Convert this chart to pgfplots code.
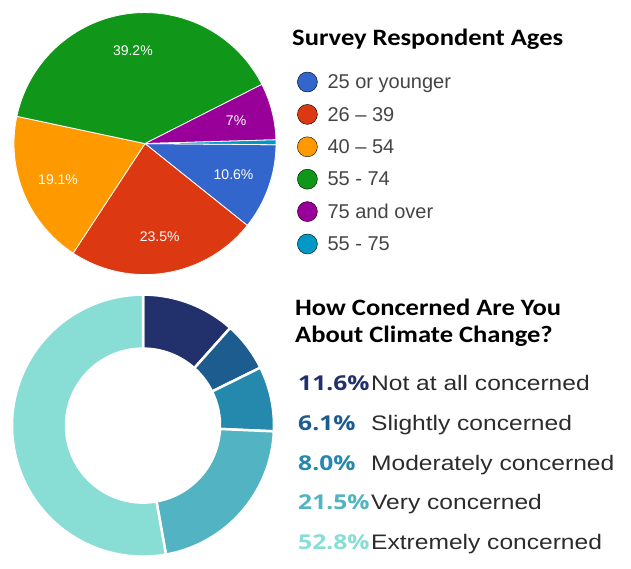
\documentclass[border=0pt]{standalone}
\usepackage{pgfplots}
\pgfplotsset{compat=1.18}
\usepackage{pgfplotstable}
\usepackage{fontspec}
\setmainfont{Liberation Sans}
\newfontfamily\titlefont[FakeStretch=1.13]{Carlito}
\newfontfamily\pctfont[FakeStretch=1.2]{Open Sans}
\newfontfamily\legfont[FakeStretch=1.17]{Liberation Sans}
\pgfkeys{/pgf/number format/assume math mode=true}

\definecolor{gBlue}{HTML}{3366CC}
\definecolor{gRed}{HTML}{DC3912}
\definecolor{gOrange}{HTML}{FF9900}
\definecolor{gGreen}{HTML}{109618}
\definecolor{gPurple}{HTML}{990099}
\definecolor{gCyan}{HTML}{0099C6}
\definecolor{dA}{HTML}{22306B}
\definecolor{dB}{HTML}{1C5C8E}
\definecolor{dC}{HTML}{2588AD}
\definecolor{dD}{HTML}{52B3C2}
\definecolor{dE}{HTML}{88DDD5}
\definecolor{legtext}{HTML}{444444}
\definecolor{bodytext}{HTML}{2B2B2B}

% Survey respondent ages (percent)
\pgfplotstableread{
pct color label
10.6 gBlue {25 or younger}
23.5 gRed {26 -- 39}
19.1 gOrange {40 -- 54}
39.2 gGreen {55 - 74}
7.0 gPurple {75 and over}
0.6 gCyan {55 - 75}
}\agedata

% How concerned are you about climate change (percent)
\pgfplotstableread{
pct color label
11.6 dA {Not at all concerned}
6.1 dB {Slightly concerned}
8.0 dC {Moderately concerned}
21.5 dD {Very concerned}
52.8 dE {Extremely concerned}
}\concerndata

\newcommand\prepsectors[3]{%
  \pgfplotstablegetrowsof{#1}%
  \pgfmathtruncatemacro\nrows{\pgfplotsretval-1}%
  \xdef\curang{#3}%
  \foreach \i in {0,...,\nrows}{%
    \pgfplotstablegetelem{\i}{pct}\of{#1}\let\v\pgfplotsretval
    \pgfplotstablegetelem{\i}{color}\of{#1}\let\c\pgfplotsretval
    \pgfplotstablegetelem{\i}{label}\of{#1}\let\l\pgfplotsretval
    \pgfmathsetmacro\e{\curang-3.6*\v}%
    \pgfmathsetmacro\m{(\curang+\e)/2}%
    \expandafter\xdef\csname #2s\i\endcsname{\curang}%
    \expandafter\xdef\csname #2e\i\endcsname{\e}%
    \expandafter\xdef\csname #2m\i\endcsname{\m}%
    \expandafter\xdef\csname #2c\i\endcsname{\c}%
    \expandafter\xdef\csname #2v\i\endcsname{\v}%
    \expandafter\global\expandafter\let\csname #2l\i\endcsname\l
    \xdef\curang{\e}%
  }%
}

\begin{document}
\begin{tikzpicture}
\prepsectors{\agedata}{age}{-0.5}
\prepsectors{\concerndata}{con}{90}
\begin{axis}[
  x=1pt, y=1pt, xmin=0, xmax=631, ymin=0, ymax=550,
  hide axis, clip=false, scale only axis,
  legend image code/.code={\fill[#1] (0pt,0.5pt) circle (10pt);},
  legend cell align=left,
  legend style={draw=none, fill=none, at={(0.47068,0.88364)}, anchor=north west,
    inner sep=0pt, row sep=12pt, column sep=10pt,
    font=\fontsize{20}{24}\selectfont, text=legtext,
    nodes={inner sep=0pt}},
]
\path (axis cs:0,0) rectangle (axis cs:631,550);
% pie
\pgfplotsinvokeforeach{0,...,5}{%
  \edef\temp{\noexpand\fill[fill=\csname agec#1\endcsname, draw=white, line width=0.8pt, line join=round]
    (axis cs:145,414) -- ++(\csname ages#1\endcsname:131pt)
    arc[start angle=\csname ages#1\endcsname, end angle=\csname agee#1\endcsname, radius=131pt] -- cycle;}%
  \temp
}
\pgfplotsinvokeforeach{0,...,4}{%
  \edef\temp{\noexpand\node[text=white, inner sep=0pt, font=\noexpand\fontsize{14}{16}\noexpand\selectfont]
    at (axis cs:{145+94*cos(\csname agem#1\endcsname)},{414+94*sin(\csname agem#1\endcsname)})
    {\noexpand\pgfmathprintnumber[fixed,precision=1]{\csname agev#1\endcsname}\noexpand\%};}%
  \temp
}
\pgfplotsinvokeforeach{0,...,5}{%
  \edef\temp{\noexpand\addlegendimage{fill=\csname agec#1\endcsname}}\temp
  \expandafter\addlegendentry\expandafter{\csname agel#1\endcsname}
}
% donut
\pgfplotsinvokeforeach{0,...,4}{%
  \edef\temp{\noexpand\fill[fill=\csname conc#1\endcsname, draw=white, line width=2.5pt, line join=miter]
    (axis cs:143,132) ++(\csname cons#1\endcsname:131pt)
    arc[start angle=\csname cons#1\endcsname, end angle=\csname cone#1\endcsname, radius=131pt]
    -- ++(\csname cone#1\endcsname:-54pt)
    arc[start angle=\csname cone#1\endcsname, end angle=\csname cons#1\endcsname, radius=77pt] -- cycle;}%
  \temp
}
% titles
\node[anchor=base west, inner sep=0pt, font=\titlefont\bfseries\fontsize{23.5}{28}\selectfont]
  at (axis cs:292,512) {Survey Respondent Ages};
\node[anchor=base west, inner sep=0pt, font=\titlefont\bfseries\fontsize{23.5}{28}\selectfont]
  at (axis cs:295,242) {How Concerned Are You};
\node[anchor=base west, inner sep=0pt, font=\titlefont\bfseries\fontsize{23.5}{28}\selectfont]
  at (axis cs:295,215) {About Climate Change?};
% donut legend
\pgfplotsinvokeforeach{0,...,4}{%
  \edef\temp{\noexpand\node[anchor=base west, inner sep=0pt, text=\csname conc#1\endcsname,
      font=\noexpand\pctfont\noexpand\bfseries\noexpand\fontsize{20.5}{24}\noexpand\selectfont]
    at (axis cs:298,{167-39.75*#1})
    {\noexpand\pgfmathprintnumber[fixed,fixed zerofill,precision=1]{\csname conv#1\endcsname}\noexpand\%};}%
  \temp
  \edef\temp{\noexpand\node[anchor=base west, inner sep=0pt, text=bodytext,
      font=\noexpand\legfont\noexpand\fontsize{21}{24}\noexpand\selectfont]
    at (axis cs:371,{167-39.75*#1}) {\expandafter\noexpand\csname conl#1\endcsname};}%
  \temp
}
\end{axis}
\end{tikzpicture}
\end{document}
